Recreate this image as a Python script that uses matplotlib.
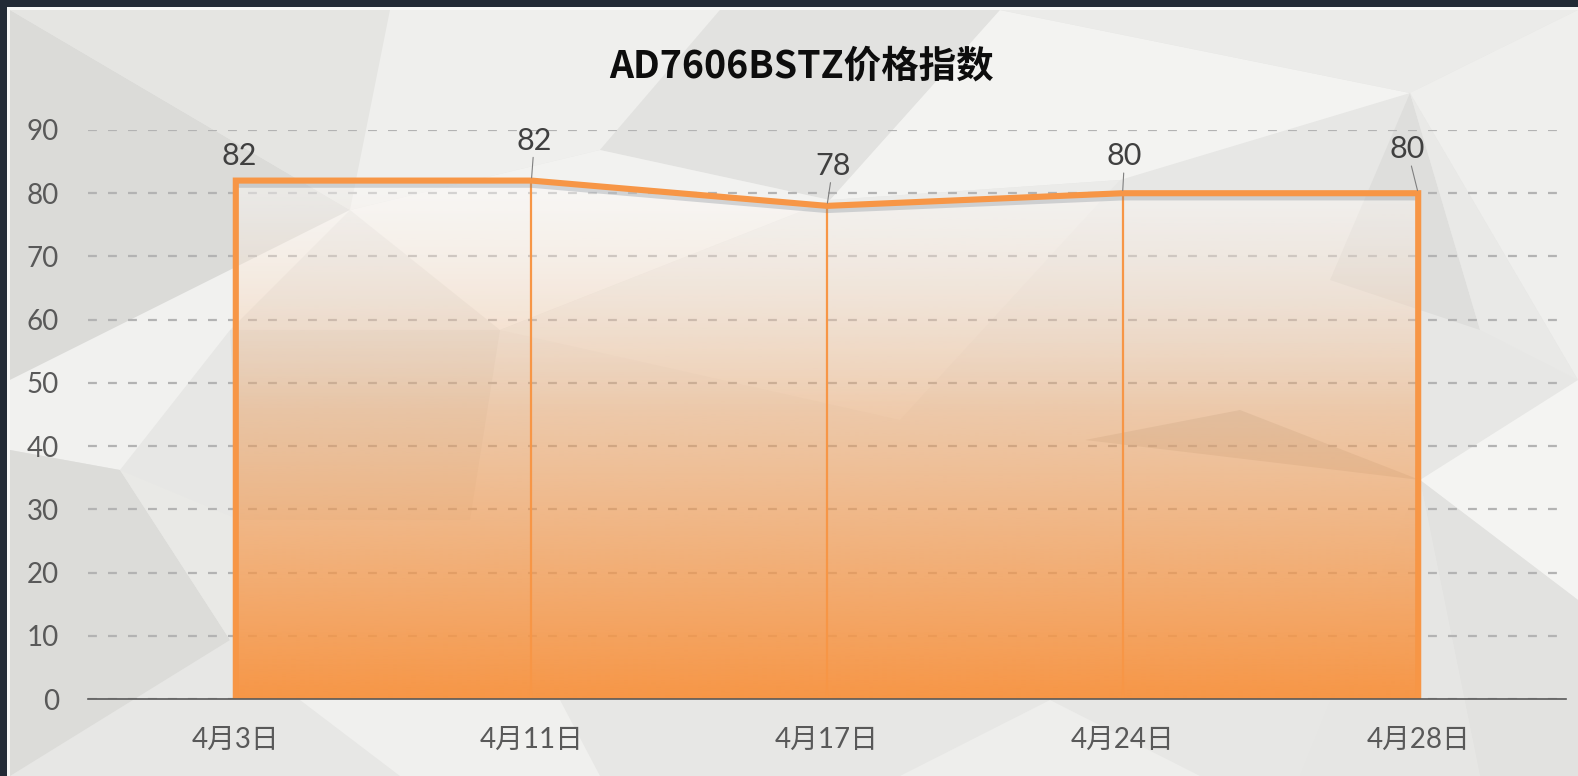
import numpy as np
import matplotlib
matplotlib.use('Agg')
import matplotlib.pyplot as plt
from matplotlib.patches import Polygon, Rectangle
import matplotlib.patheffects as pe

# ---------------- data ----------------
categories = ['4月3日', '4月11日', '4月17日', '4月24日', '4月28日']
values = [82, 82, 78, 80, 80]
y_ticks = [0, 10, 20, 30, 40, 50, 60, 70, 80, 90]
title = 'AD7606BSTZ价格指数'

# ---------------- styling ----------------
W, H = 1578, 776
ORANGE = '#f79646'
LABEL_FONT = ['Lato', 'Noto Sans CJK SC']
# label offsets (pixels: dx, dy-up) and whether a leader line is drawn
label_offsets = [(3, 25), (3, 40), (6, 40), (2, 37), (-11, 44)]
label_leader = [False, True, True, True, True]

fig = plt.figure(figsize=(W / 100, H / 100), dpi=100)
fig.patch.set_facecolor('#222a36')

# background panel with low-poly decoration
bg = fig.add_axes([0, 0, 1, 1])
bg.set_xlim(0, W)
bg.set_ylim(H, 0)
bg.axis('off')
bg.add_patch(Rectangle((7, 7), W, H, facecolor='#f6f6f6', edgecolor='none'))
bg.add_patch(Rectangle((10, 10), W, H, facecolor='#e7e7e5', edgecolor='none'))
polys = [
    ([(10, 10), (350, 210), (10, 380)], '#dbdbd8'),
    ([(10, 10), (390, 10), (350, 210)], '#e5e5e2'),
    ([(390, 10), (720, 10), (600, 150), (350, 210)], '#efefed'),
    ([(720, 10), (1000, 10), (830, 200), (600, 150)], '#e2e2e0'),
    ([(1000, 10), (1410, 93), (1120, 180), (830, 200)], '#f3f3f1'),
    ([(1000, 10), (1578, 10), (1410, 93)], '#ebebe9'),
    ([(1410, 93), (1578, 10), (1578, 380)], '#efefed'),
    ([(1410, 93), (1330, 280), (1480, 330)], '#dededc'),
    ([(1410, 93), (1480, 330), (1578, 380)], '#e9e9e7'),
    ([(1420, 480), (1578, 380), (1578, 600)], '#f4f4f2'),
    ([(1420, 480), (1578, 600), (1578, 776), (1480, 776)], '#e2e2e0'),
    ([(1300, 776), (1420, 480), (1480, 776)], '#e6e6e4'),
    ([(10, 380), (350, 210), (230, 330), (120, 470), (10, 450)], '#f1f1ef'),
    ([(10, 450), (120, 470), (230, 640), (10, 776)], '#dcdcd9'),
    ([(120, 470), (240, 520), (230, 640)], '#e9e9e6'),
    ([(300, 700), (560, 700), (600, 776), (400, 776)], '#f0f0ee'),
    ([(900, 776), (1050, 700), (1200, 776)], '#eeeeec'),
    ([(1085, 440), (1240, 410), (1420, 480)], '#d6d6d3'),
    ([(350, 210), (600, 150), (830, 200), (500, 330)], '#f2f2f0'),
    ([(500, 330), (830, 200), (1120, 180), (900, 420)], '#ebebe9'),
    ([(230, 330), (500, 330), (470, 520), (240, 520)], '#e0e0dd'),
]
for pts, c in polys:
    bg.add_patch(Polygon(pts, closed=True, facecolor=c, edgecolor='none'))

# ---------------- main axes ----------------
ax = fig.add_axes([88 / W, 77 / H, (1566 - 88) / W, (699 - 130) / H])
ax.patch.set_alpha(0)
xs = np.arange(len(categories))

# gradient area fill
verts = [(xs[0], 0)] + list(zip(xs, values)) + [(xs[-1], 0)]
clip = Polygon(verts, closed=True, facecolor='none', edgecolor='none',
               transform=ax.transData)
ax.add_patch(clip)
vv = np.linspace(0, 90, 400)
orange_rgb = np.array(matplotlib.colors.to_rgb(ORANGE))
g = np.zeros((400, 1, 4))
g[..., :3] = orange_rgb
g[..., 3] = (np.clip(1 - vv / 86, 0, 1) ** 1.3)[:, None]
im = ax.imshow(g, extent=(xs[0], xs[-1], 0, 90), origin='lower',
               aspect='auto', zorder=2, interpolation='bilinear')
im.set_clip_path(clip)
w = np.zeros((400, 1, 4))
w[..., :3] = 1.0
w[..., 3] = (np.clip((vv - 45) / 37, 0, 1) * 0.45)[:, None]
im2 = ax.imshow(w, extent=(xs[0], xs[-1], 0, 90), origin='lower',
                aspect='auto', zorder=2.1, interpolation='bilinear')
im2.set_clip_path(clip)

# drop lines at interior points
for x, v in zip(xs[1:-1], values[1:-1]):
    ax.plot([x, x], [0, v], color=ORANGE, lw=1.6, zorder=3,
            solid_capstyle='butt')

# shadow under the top line
ax.plot(xs, values, color='none', lw=4.0, zorder=3.5,
        path_effects=[pe.SimpleLineShadow(offset=(0, -3.2),
                                          shadow_color='#7a8590', alpha=0.3)])
# outline
ox = [xs[0]] + list(xs) + [xs[-1]]
oy = [0] + list(values) + [0]
ax.plot(ox, oy, color=ORANGE, lw=4.4, zorder=4, solid_joinstyle='miter',
        solid_capstyle='butt')

# data labels
for x, v, (dx, dy), lead in zip(xs, values, label_offsets, label_leader):
    ax.annotate(str(v), xy=(x, v), xytext=(dx * 0.72, dy * 0.72),
                textcoords='offset points', ha='center', va='center',
                fontsize=22, color='#404040', family=LABEL_FONT, zorder=6,
                arrowprops=(dict(arrowstyle='-', color='#7f7f7f', lw=0.8,
                                 shrinkA=0, shrinkB=2) if lead else None))

ax.set_xlim(-0.5, len(categories) - 0.5)
ax.set_ylim(0, 90)
ax.set_yticks(y_ticks)
ax.set_xticks(xs)
ax.set_xticklabels(categories)
ax.tick_params(axis='both', length=0, labelsize=20, labelcolor='#595959')
ax.tick_params(axis='y', pad=21)
ax.tick_params(axis='x', pad=20)
for lab in ax.get_xticklabels() + ax.get_yticklabels():
    lab.set_family(LABEL_FONT)
ax.set_axisbelow(True)
ax.yaxis.grid(True, color='#b3b3b3', lw=1.6, ls=(0, (4, 5)))
for s in ['left', 'right', 'top']:
    ax.spines[s].set_visible(False)
ax.spines['bottom'].set_color('#595959')
ax.spines['bottom'].set_linewidth(1.2)
ax.spines['bottom'].set_zorder(5)

fig.text(801 / W, 1 - 66 / H, title, ha='center', va='center', fontsize=27,
         fontweight='bold', color='#0d0d0d',
         family=['Noto Sans CJK SC', 'DejaVu Sans'])

fig.savefig('out.png', dpi=100, facecolor=fig.get_facecolor())
